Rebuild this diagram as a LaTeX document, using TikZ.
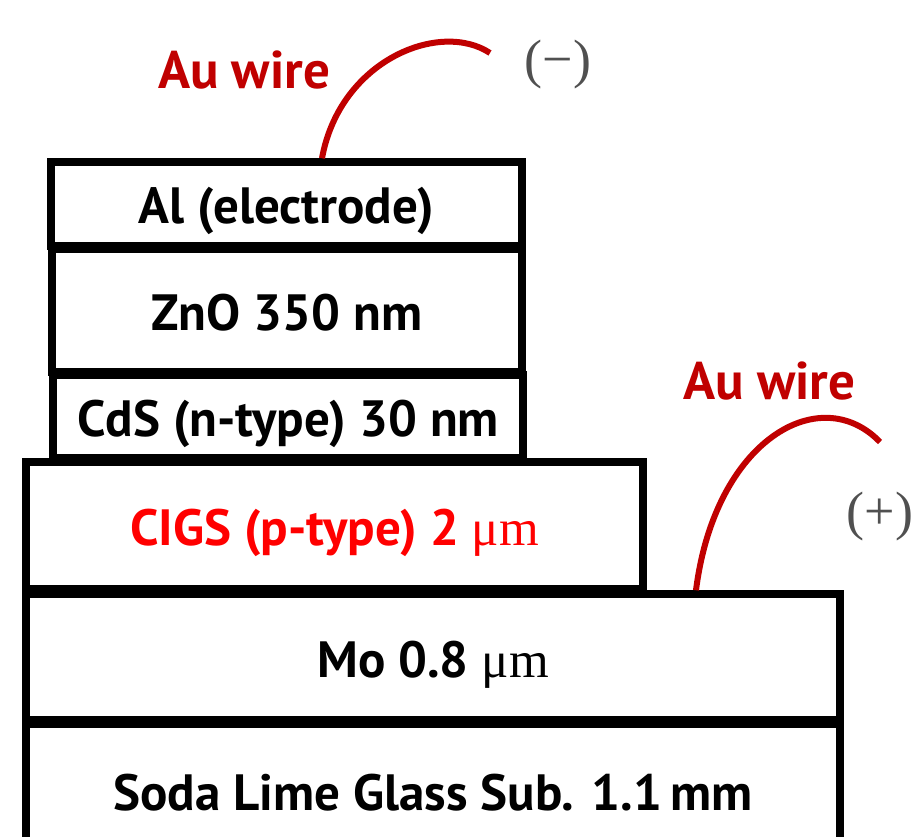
\documentclass[tikz,border=0pt]{standalone}
\usepackage{fontspec}
\setmainfont{PT Sans}
\newfontfamily\mufont{Liberation Serif}
\definecolor{wirered}{HTML}{C00000}
\definecolor{signgray}{HTML}{505050}

\begin{document}
\begin{tikzpicture}[x=1pt,y=-1pt,
  layer/.style={draw,line width=7.5pt,inner sep=0pt,text height=40pt,text depth=0pt,
    font=\fontsize{51}{58}\selectfont\bfseries},
  wire/.style={wirered,line width=6pt},
  wlbl/.style={text=wirered,font=\fontsize{53}{60}\selectfont\bfseries},
  sgn/.style={text=signgray,font=\fontsize{54}{60}\selectfont\mufont}
]
\useasboundingbox (0,0) rectangle (921,837);
\clip (0,0) rectangle (921,837);

% Layer stack, top to bottom
\node[layer,minimum width=471pt,minimum height=84pt]  (al)    at (286.5,204) {Al (electrode)};
\node[layer,minimum width=470pt,minimum height=123pt] (zno)   at (287,310.5) {ZnO 350 nm};
\node[layer,minimum width=470pt,minimum height=83pt]  (cds)   at (288,416.5) {CdS (n-type) 30 nm};
\node[layer,minimum width=617pt,minimum height=127pt,text=red] (cigs) at (334.5,525.5) {CIGS (p-type) 2 {\mufont\mdseries μm}};
\node[layer,minimum width=814pt,minimum height=126pt] (mo)    at (433,657) {Mo 0.8 {\mufont\mdseries μm}};
\node[layer,minimum width=814pt,minimum height=132pt] (glass) at (433,790) {Soda Lime Glass Sub. 1.1\,mm};

% Top contact: wire to (-)
\coordinate (topend) at (490,53);
\draw[wire] ([xshift=35.5pt]al.north) .. controls (340,60) and (440,20) .. (topend);
\node[wlbl] (topwire) at (244,70) {Au wire};
\node[sgn]  (minus)   at (558,65) {(−)};

% Back contact: wire to (+)
\coordinate (backend) at (880,442);
\draw[wire] ([xshift=263pt]mo.north) .. controls (715,440) and (820,380) .. (backend);
\node[wlbl] (backwire) at (769,381) {Au wire};
\node[sgn]  (plus)     at (880,517) {(+)};
\end{tikzpicture}
\end{document}
